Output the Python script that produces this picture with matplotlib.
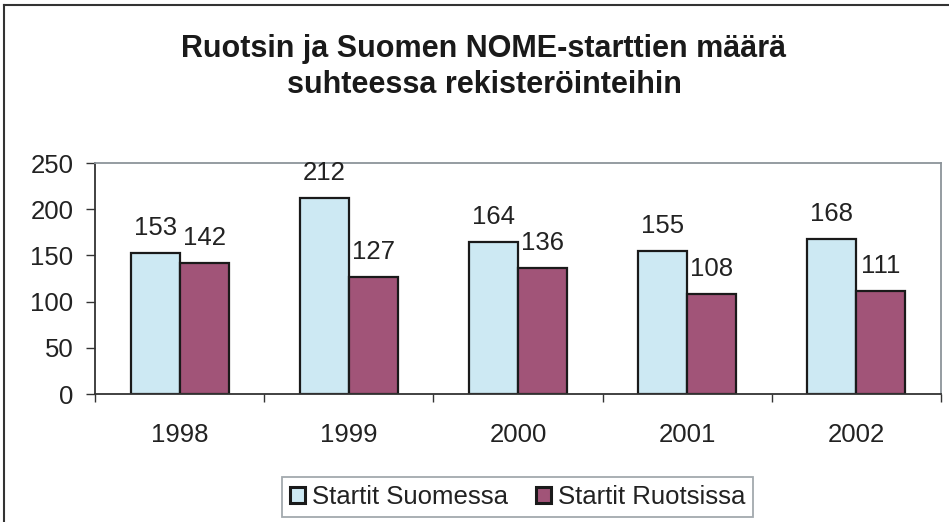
import matplotlib.pyplot as plt
import numpy as np

# NOME-startit Suomessa ja Ruotsissa 1998-2002
vuodet = ["1998", "1999", "2000", "2001", "2002"]
suomi = [153, 212, 164, 155, 168]
ruotsi = [142, 127, 136, 108, 111]

plt.rcParams["font.family"] = ["Liberation Sans", "DejaVu Sans"]

fig = plt.figure(figsize=(9.49, 5.22), dpi=100)
ax = fig.add_axes([0.1001, 0.2452, 0.8915, 0.4425])

x = np.arange(len(vuodet))
w = 0.29
b1 = ax.bar(x - w / 2, suomi, w, color="#CDE9F3", edgecolor="#1a1a1a", linewidth=1.6,
            label="Startit Suomessa")
b2 = ax.bar(x + w / 2, ruotsi, w, color="#A15478", edgecolor="#1a1a1a", linewidth=1.6,
            label="Startit Ruotsissa")

for bars, vals in [(b1, suomi), (b2, ruotsi)]:
    for r, v in zip(bars, vals):
        ax.annotate(str(v), (r.get_x() + r.get_width() / 2, v), xytext=(0, 13),
                    textcoords="offset points", ha="center", va="baseline",
                    fontsize=18.5, color="#222222", annotation_clip=False)

ax.set_xlim(-0.5, len(vuodet) - 0.5)
ax.set_ylim(0, 250)
ax.set_yticks(range(0, 251, 50))
ax.set_xticks(x)
ax.set_xticklabels(vuodet)
ax.set_xticks(np.arange(-0.5, len(vuodet), 1), minor=True)
ax.tick_params(axis="x", which="major", length=0, pad=21, labelsize=18.5, labelcolor="#222222")
ax.tick_params(axis="x", which="minor", length=6, width=1, color="#333333")
ax.tick_params(axis="y", length=6.5, width=1, color="#333333", pad=9, labelsize=18.5,
               labelcolor="#222222")

ax.spines["left"].set_color("#333333")
ax.spines["bottom"].set_color("#333333")
ax.spines["top"].set_color("#8C949A")
ax.spines["right"].set_color("#8C949A")
for s in ax.spines.values():
    s.set_linewidth(1.3)

fig.text(0.51, 0.871, "Ruotsin ja Suomen NOME-starttien määrä\nsuhteessa rekisteröinteihin",
         ha="center", va="center", fontsize=22, fontweight="bold", color="#1a1a1a",
         linespacing=1.25)

leg = fig.legend(loc="center", bbox_to_anchor=(0.5453, 0.0479), ncol=2, fontsize=18.5,
                 frameon=True, fancybox=False, edgecolor="#8C949A", handlelength=0.6,
                 handleheight=0.6, handletextpad=0.25, columnspacing=1.1, borderpad=0.3,
                 borderaxespad=0)
leg.get_frame().set_linewidth(1.3)
for h in leg.legend_handles:
    h.set_linewidth(2.2)
    h.set_edgecolor("#1a1a1a")
for t in leg.get_texts():
    t.set_color("#222222")

# kehys kuvan ympärillä (vain vasen ja ylä näkyy)
fig.add_artist(plt.Line2D([4 / 949, 4 / 949], [0, 1 - 5 / 522], color="#333333", linewidth=1.5))
fig.add_artist(plt.Line2D([4 / 949, 1], [1 - 5 / 522, 1 - 5 / 522], color="#333333", linewidth=1.5))

plt.savefig("out.png", dpi=100)
